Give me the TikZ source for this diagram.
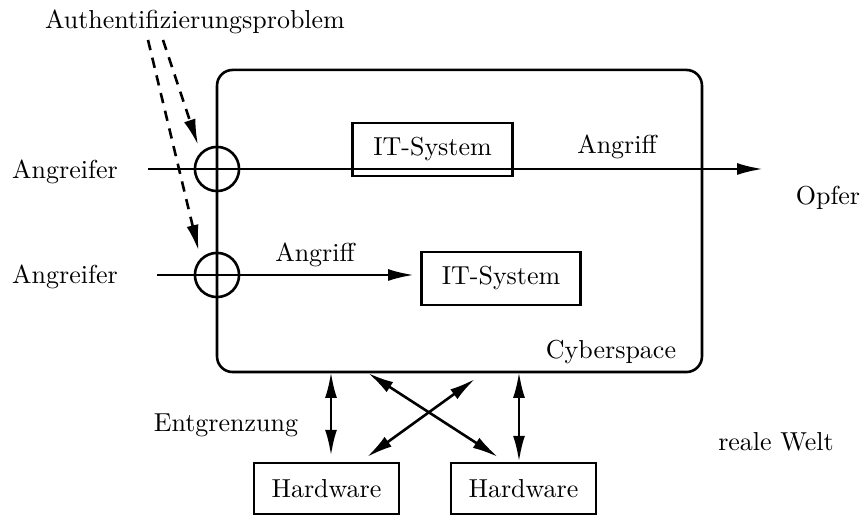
\documentclass[tikz,border=0pt]{standalone}
\usetikzlibrary{arrows.meta}

\tikzset{
	box/.style={draw, line width=1pt, inner sep=0pt, minimum width=61.4pt, minimum height=20.4pt},
	hwbox/.style={box, minimum width=55.8pt, minimum height=19.6pt},
	ring/.style={draw, circle, line width=1pt, inner sep=0pt, minimum size=17pt},
	tip/.style={-{Latex[length=10pt,width=4.6pt]}},
	attack/.style={line width=1pt, tip},
	link/.style={line width=1pt, {Latex[length=10pt,width=4.6pt]}-{Latex[length=10pt,width=4.6pt]}},
	auth/.style={line width=1pt, dash pattern=on 4pt off 3pt, tip, shorten >=3pt},
}

\begin{document}
\begin{tikzpicture}[x=0.385pt, y=-0.385pt]
	\useasboundingbox (0,0) rectangle (863,516);

	% Cyberspace
	\node [draw, line width=1pt, rounded corners=6pt, inner sep=0pt,
		minimum width=186.7pt, minimum height=116.3pt] (cyber) at (459.5,221) {};
	\node (cyberlabel) at (611,352) {Cyberspace};

	% Zugangspunkte
	\node [ring] (r1) at (217,169) {};
	\node [ring] (r2) at (217,275) {};

	\node (auth) at (195,22) {Authentifizierungsproblem};
	\coordinate (d1) at (148,40);
	\coordinate (d2) at (163,40);
	\draw [auth] (d1) -- (r2.north west);
	\draw [auth] (d2) -- (r1.north west);

	% IT-Systeme
	\node [box] (it1) at (432.5,149.5) {IT-System};
	\node [box] (it2) at (501,278.5) {IT-System};

	% Angriffe
	\foreach \y/\n in {172/1, 277/2} {
		\node (ang\n) at (65,\y) {Angreifer};
	}
	\coordinate (a1) at (148,169);
	\coordinate (a2) at (157,275);
	\coordinate (v1) at (763,169);
	\draw [attack] (a1) -- (v1);
	\draw [attack, shorten >=2.3pt] (a2) -- (a2 -| it2.west);
	\node (att1) at (617,147) {Angriff};
	\node (att2) at (315,255) {Angriff};
	\node (opfer) at (828,198) {Opfer};

	% reale Welt
	\node [hwbox] (hw1) at (326.5,488.5) {Hardware};
	\node [hwbox] (hw2) at (523.5,488.5) {Hardware};
	\coordinate (k1) at (331,372);
	\coordinate (k2) at (519,372);
	\draw [link, shorten >=2.3pt] (k1) -- (k1 |- hw1.north);
	\draw [link] (k2) -- (k2 |- hw2.north);
	\coordinate (x1) at (368,373);
	\coordinate (x2) at (498,457);
	\coordinate (x3) at (367,457);
	\coordinate (x4) at (475,379);
	\draw [link] (x1) -- (x2);
	\draw [link] (x3) -- (x4);
	\node (grenze) at (226,425) {Entgrenzung};
	\node (welt) at (776,442) {reale Welt};
\end{tikzpicture}
\end{document}
